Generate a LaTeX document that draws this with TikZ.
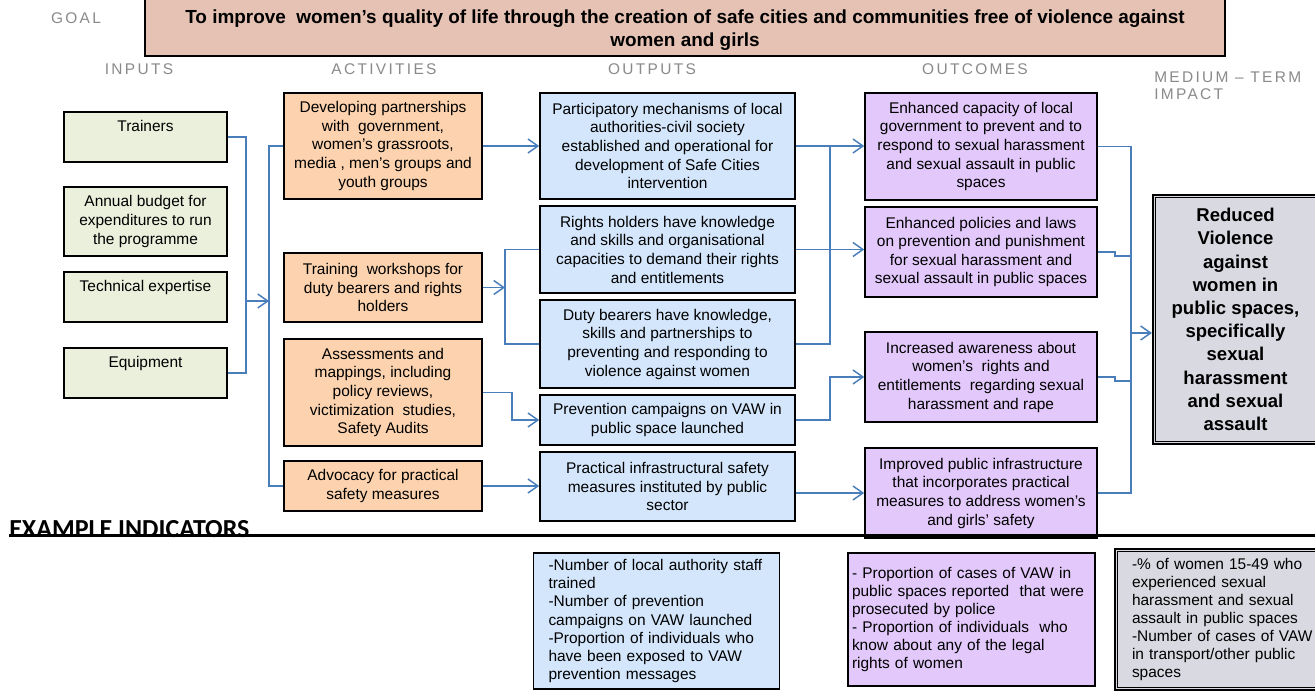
\documentclass[tikz,border=0pt]{standalone}
\usepackage{fontspec}
\setmainfont{Liberation Sans}
\newfontfamily\hdrfont[LetterSpace=15]{Liberation Sans}
\newfontfamily\calfont{Carlito}
\usetikzlibrary{arrows.meta}
\definecolor{goalfill}{HTML}{E6C2B4}
\definecolor{infill}{HTML}{EAF0DC}
\definecolor{actfill}{HTML}{FCD3AE}
\definecolor{outfill}{HTML}{D4E6FB}
\definecolor{ocfill}{HTML}{E3C9FB}
\definecolor{impfill}{HTML}{D9D9E2}
\definecolor{linkblue}{HTML}{4A7EBB}
\definecolor{hdrgray}{HTML}{8A8A8A}
\newcommand{\pxu}{0.75pt}
\tikzset{
  box/.style={draw=black, line width=1.2pt, inner sep=0pt, align=center,
    font=\fontsize{11.6pt}{14pt}\selectfont},
  inb/.style={box, fill=infill, minimum width=163*\pxu},
  actb/.style={box, fill=actfill, minimum width=198*\pxu},
  outb/.style={box, fill=outfill, minimum width=255*\pxu},
  ocb/.style={box, fill=ocfill, minimum width=232*\pxu},
  indb/.style={box, align=left, inner ysep=0pt,
    font=\fontsize{11.6pt}{13.6pt}\selectfont},
  hdr/.style={font=\hdrfont\fontsize{11.6pt}{12.75pt}\selectfont, text=hdrgray, inner sep=0pt},
  link/.style={draw=linkblue, line width=1.4pt},
  arr/.style={link, -{Straight Barb[length=7.5pt,width=10.5pt,line width=1.1pt]}},
}
\begin{document}
\begin{tikzpicture}[x=0.75pt, y=-0.75pt]
\useasboundingbox (0,0) rectangle (1315,699);
\fill[white] (0,0) rectangle (1315,699);
\clip (0,0) rectangle (1315,699);

% goal
\node[hdr] (hgoal) at (76,18) {GOAL};
\node[box, fill=goalfill, minimum width=1080*\pxu, minimum height=59*\pxu,
  font=\bfseries\fontsize{14.2pt}{17.25pt}\selectfont] (goal) at (685,26.5)
  {\rule{0pt}{16.5pt}To improve \ women’s quality of life through the creation of safe cities and communities free of violence against\\women and girls};

% headers
\node[hdr] (hin) at (139,69) {INPUTS};
\node[hdr] (hact) at (384,69) {ACTIVITIES};
\node[hdr] (hout) at (652,69) {OUTPUTS};
\node[hdr] (hoc) at (975,69) {OUTCOMES};
\node[hdr, anchor=north west, align=left] (himp) at (1154,72) {MEDIUM – TERM\\IMPACT};

% inputs
\node[inb, minimum height=50*\pxu] (tr) at (145.5,137) {\strut Trainers\\\strut};
\node[inb, minimum height=69*\pxu] (ab) at (145.5,221.5) {Annual budget for\\expenditures to run\\the programme};
\node[inb, minimum height=50*\pxu] (te) at (145.5,297) {\strut Technical expertise\\\strut};
\node[inb, minimum height=50*\pxu] (eq) at (145.5,373) {\strut Equipment\\\strut};

% activities
\node[actb, minimum height=106*\pxu] (dev) at (383,146) {Developing partnerships\\with \ government,\\women’s grassroots,\\media , men’s groups and\\youth groups};
\node[actb, minimum height=69*\pxu] (trn) at (383,287.5) {Training \ workshops for\\duty bearers and rights\\holders};
\node[actb, minimum height=107*\pxu] (asm) at (383,392.5) {Assessments and\\mappings, including\\policy reviews,\\victimization \ studies,\\Safety Audits};
\node[actb, minimum height=50*\pxu] (adv) at (383,486) {Advocacy for practical\\safety measures};

% outputs
\node[outb, minimum height=106*\pxu] (pm) at (667.5,146) {Participatory mechanisms of local\\authorities-civil society\\established and operational for\\development of Safe Cities\\intervention};
\node[outb, minimum height=87*\pxu] (rh) at (667.5,249.5) {Rights holders have knowledge\\and skills and organisational\\capacities to demand their rights\\and entitlements};
\node[outb, minimum height=88*\pxu] (db) at (667.5,344) {Duty bearers have knowledge,\\skills and partnerships to\\preventing and responding to\\violence against women};
\node[outb, minimum height=50*\pxu] (pc) at (667.5,420) {Prevention campaigns on VAW in\\public space launched};
\node[outb, minimum height=69*\pxu] (pi) at (667.5,486.5) {Practical infrastructural safety\\measures instituted by public\\sector};

% outcomes
\node[ocb, minimum height=107*\pxu] (ec) at (981,146.5) {Enhanced capacity of local\\government to prevent and to\\respond to sexual harassment\\and sexual assault in public\\spaces};
\node[ocb, minimum height=90*\pxu] (ep) at (981,252) {Enhanced policies and laws\\on prevention and punishment\\for sexual harassment and\\sexual assault in public spaces};
\node[ocb, minimum height=90*\pxu] (ia) at (981,377) {Increased awareness about\\women’s \ rights and\\entitlements \ regarding sexual\\harassment and rape};
\node[ocb, minimum height=90*\pxu] (ip) at (981,493) {Improved public infrastructure\\that incorporates practical\\measures to address women’s\\and girls’ safety};

% impact
\node[box, fill=impfill, line width=1.6pt, minimum width=165*\pxu, minimum height=249*\pxu,
  font=\bfseries\fontsize{13.9pt}{17.4pt}\selectfont] (imp) at (1235.5,319.5)
  {Reduced\\Violence\\against\\women in\\public spaces,\\specifically\\sexual\\harassment\\and sexual\\assault};
\draw[line width=0.8pt] ([shift={(4,4)}]imp.north west) rectangle ([shift={(-4,-4)}]imp.south east);

% connectors
\coordinate (inbus) at (246,301);
\coordinate (actbus) at (269,301);
\draw[link] (tr.east) -| (inbus) |- (eq.east);
\draw[arr] (inbus) -- (actbus);
\draw[link] (dev.west) -| (actbus) |- (adv.west);

\coordinate (obus) at (505,287.5);
\draw[arr] (dev.east) -- (pm.west);
\draw[arr] (trn.east) -- (obus);
\draw[link] (rh.west) -| (obus) |- (db.west);
\draw[arr] (asm.east) -- ++(29,0) |- (pc.west);
\draw[arr] (adv.east) -- (adv.east -| pi.west);

\coordinate (ocbus) at (830,377);
\draw[arr] (pm.east) -- (pm.east -| ec.west);
\draw[link] (db.east) -| (ocbus |- pm.east);
\draw[arr] (rh.east) -- (rh.east -| ep.west);
\draw[arr] (pc.east) -| (ocbus) -- (ia.west);
\draw[arr] (pi.east |- ip.west) -- (ip.west);

\coordinate (imbus) at (1131,333);
\draw[link] (ec.east) -| (imbus) |- (ip.east);
\draw[link] (ep.east) -- ++(17,0) -- ++(0,4) -| (imbus);
\draw[link] (ia.east) -- ++(17,0) -- ++(0,4) -| (imbus);
\draw[arr] (imbus) -- (imbus -| imp.west);

% example indicators
\node[anchor=base west, inner sep=0pt, font=\calfont\bfseries\fontsize{19.5pt}{19.5pt}\selectfont] (exi) at (9,537) {EXAMPLE INDICATORS};
\coordinate (ruleend) at (1315,535.5);
\draw[line width=1.9pt] (exi.west |- ruleend) -- (ruleend);

\node[indb, fill=outfill, text width=216*\pxu, inner xsep=15*\pxu, minimum height=136*\pxu] (bi) at (656.5,621)
  {-Number of local authority staff\\trained\\-Number of prevention\\campaigns on VAW launched\\-Proportion of individuals who\\have been exposed to VAW\\prevention messages};
\node[indb, fill=ocfill, text width=239*\pxu, inner xsep=4*\pxu, minimum height=133*\pxu] (pi2) at (971.5,619.5)
  {- Proportion of cases of VAW in\\public spaces reported \ that were\\prosecuted by police\\- Proportion of individuals \ who\\know about any of the legal\\rights of women};
\node[indb, fill=impfill, line width=1.6pt, text width=182*\pxu, inner xsep=17*\pxu, minimum height=141*\pxu] (gi) at (1223,619.5)
  {-\% of women 15-49 who\\experienced sexual\\harassment and sexual\\assault in public spaces\\-Number of cases of VAW\\in transport/other public\\spaces};
\draw[line width=0.8pt] ([shift={(4,4)}]gi.north west) rectangle ([shift={(-4,-4)}]gi.south east);
\end{tikzpicture}
\end{document}
